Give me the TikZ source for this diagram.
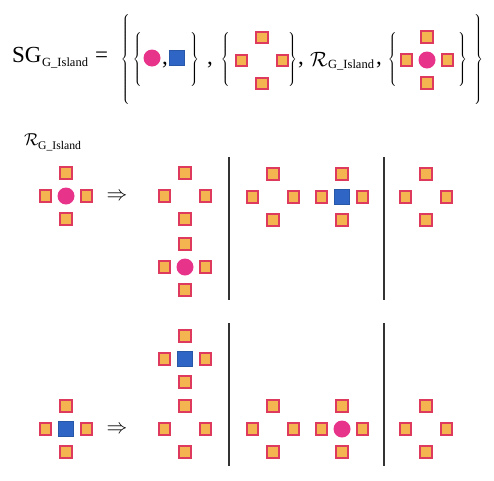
\documentclass[tikz,border=0pt]{standalone}
\usepackage{fontspec}
\setmainfont{Liberation Serif}
\usepackage{tikz}
\usepackage{xcolor}

\definecolor{tilefill}{HTML}{F4B450}
\definecolor{tileedge}{HTML}{DE3A5E}
\definecolor{dotpink}{HTML}{E8338A}
\definecolor{tileblue}{HTML}{2F66C6}

\newcommand\openbrace[1]{$\left\{\vcenter{\hbox{\rule{0pt}{#1}}}\right.$}
\newcommand\closebrace[1]{$\left.\vcenter{\hbox{\rule{0pt}{#1}}}\right\}$}

\begin{document}
\begin{tikzpicture}[x=1pt, y=-1pt,
  tile/.style={rectangle, draw=tileedge, line width=2pt, fill=tilefill,
    minimum size=11.5pt, inner sep=0pt},
  dot/.style={circle, fill=dotpink, minimum size=17pt, inner sep=0pt},
  bluetile/.style={rectangle, fill=tileblue, draw=tileblue!85!black,
    line width=0.4pt, minimum size=15pt, inner sep=0pt},
  brace/.style={inner sep=0pt, font=\fontsize{12}{14}\selectfont},
  big/.style={inner sep=0pt, anchor=base west, font=\fontsize{23}{26}\selectfont},
  sub/.style={inner sep=0pt, anchor=base west, font=\fontsize{12.5}{14}\selectfont},
  implies/.style={inner sep=0pt, font=\fontsize{21}{24}\selectfont},
  sep/.style={line width=1.3pt, black!80}]
  \useasboundingbox (0,0) rectangle (494,480);

  % the set SG
  \node[big] (sg) at (12,62) {SG};
  \node[sub] (sgsub) at (42,66.5) {G\_Island};
  \node[big] (eq) at (95,62) {=};

  \node[brace] (ob1) at (126,59) {\openbrace{94pt}};
  \node[brace] (ib1) at (138,59) {\openbrace{58pt}};
  \node[brace] (cb1) at (194,59) {\closebrace{58pt}};
  \node[big] (cm1) at (162,64) {,};
  \node[big] (cm2) at (207,64) {,};
  \node[brace] (ib2) at (226,59) {\openbrace{58pt}};
  \node[brace] (cb2) at (292,59) {\closebrace{58pt}};
  \node[big] (cm3) at (298,64) {,};
  \node[big, font=\fontsize{20}{24}\selectfont] (rt) at (310,66) {$\mathcal{R}$};
  \node[sub] (rtsub) at (328,68) {G\_Island};
  \node[big] (cm4) at (376,64) {,};
  \node[brace] (ib3) at (393,59) {\openbrace{58pt}};
  \node[brace] (cb3) at (462,59) {\closebrace{58pt}};
  \node[brace] (ob2) at (478,59) {\closebrace{94pt}};

  % the rule
  \node[big, font=\fontsize{18}{20}\selectfont] (rl) at (24,145) {$\mathcal{R}$};
  \node[sub, font=\fontsize{11.7}{13}\selectfont] (rlsub) at (38,149) {G\_Island};

  \foreach \n/\x/\y in {t2/262/60.5, t3/427/60, a1/66/196, b1/185/196,
      b2/185/267, c1/273/197, c2/342/197, d1/426/197, b3/185/359,
      a2/66/429, b4/185/429, c3/273/429, c4/342/429, d2/426/429}
    \foreach \k/\dx/\dy in {n/0/-23, w/-20.5/0, e/20.5/0, s/0/23}
      \node[tile] (\n\k) at (\x+\dx,\y+\dy) {};

  \node[dot] (p1) at (152,58) {};
  \node[dot] (p2) at (427,60) {};
  \node[dot] (p3) at (66,196) {};
  \node[dot] (p4) at (185,267) {};
  \node[dot] (p5) at (342,429) {};

  \node[bluetile] (q1) at (177,58) {};
  \node[bluetile] (q2) at (342,197) {};
  \node[bluetile] (q3) at (66,429) {};
  \node[bluetile] (q4) at (185,359) {};

  \node[implies] (ar1) at (117,197) {$\Rightarrow$};
  \node[implies] (ar2) at (117,430) {$\Rightarrow$};

  \draw[sep] (229,157) -- (229,300);
  \draw[sep] (384,157) -- (384,300);
  \draw[sep] (229,323) -- (229,466);
  \draw[sep] (384,323) -- (384,466);
\end{tikzpicture}
\end{document}
